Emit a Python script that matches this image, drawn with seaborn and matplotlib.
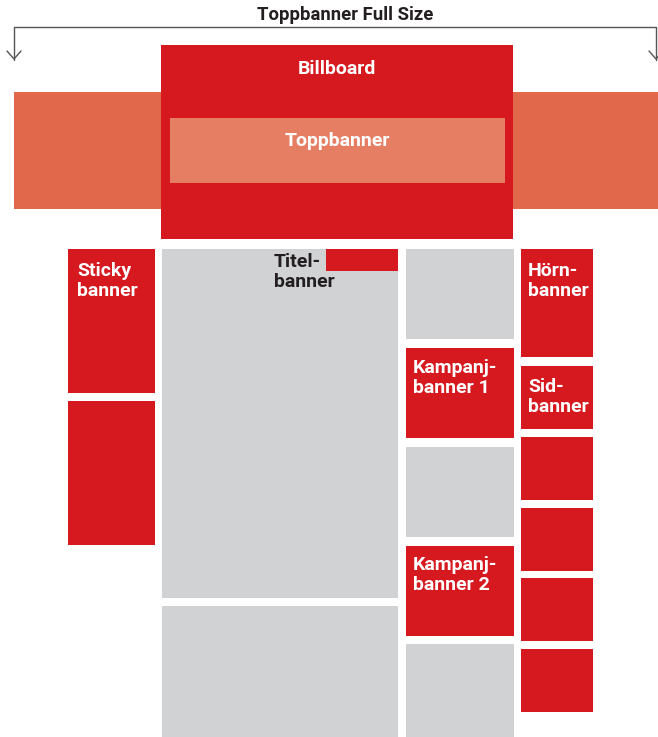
import pandas as pd
import matplotlib.pyplot as plt
import seaborn as sns

# Ad placement layout (pixel units, y grows downward)
RED = "#D6181F"
GRAY = "#D1D2D4"
ORANGE = "#E2684B"
LIGHT = "#E67E63"

box_names = [
    "toppbanner_full", "billboard", "toppbanner",
    "sticky", "sticky_2",
    "main", "main_2", "titel",
    "col3_a", "kampanj_1", "col3_b", "kampanj_2", "col3_c",
    "horn", "sid", "side_3", "side_4", "side_5", "side_6",
]
box_left = [14, 161, 170, 68, 68, 162, 162, 326,
            406, 406, 406, 406, 406, 521, 521, 521, 521, 521, 521]
box_top = [92, 45, 118, 249, 401, 249, 606, 249,
           249, 348, 447, 546, 644, 249, 366, 437, 508, 578, 649]
box_width = [644, 352, 335, 87, 87, 236, 236, 72,
             108, 108, 108, 108, 108, 72, 72, 72, 72, 72, 72]
box_height = [117, 194, 65, 144, 144, 349, 131, 22,
              90, 90, 90, 90, 93, 108, 63, 63, 63, 63, 63]
box_color = [ORANGE, RED, LIGHT, RED, RED, GRAY, GRAY, RED,
             GRAY, RED, GRAY, RED, GRAY, RED, RED, RED, RED, RED, RED]

label_text = ["Billboard", "Toppbanner", "Sticky\nbanner", "Titel-\nbanner",
              "Kampanj-\nbanner 1", "Kampanj-\nbanner 2", "Hörn-\nbanner",
              "Sid-\nbanner"]
label_x = [337, 337, 77, 274, 413, 413, 528, 528]
label_y = [69, 141, 262, 253, 359, 556, 262, 378]
label_ha = ["center", "center", "left", "left", "left", "left", "left", "left"]
label_va = ["center", "center", "top", "top", "top", "top", "top", "top"]
label_color = ["white", "white", "white", "#231F20", "white", "white", "white", "white"]

boxes = pd.DataFrame({"name": box_names, "left": box_left, "top": box_top,
                      "width": box_width, "height": box_height, "color": box_color})

sns.set_theme(style="white")
plt.rcParams["font.family"] = ["Roboto", "DejaVu Sans"]

fig = plt.figure(figsize=(6.58, 7.37), dpi=100)
ax = fig.add_axes([0, 0, 1, 1])
ax.set_xlim(0, 658)
ax.set_ylim(737, 0)
ax.axis("off")

ax.bar(boxes["left"], boxes["height"], width=boxes["width"], bottom=boxes["top"],
       color=boxes["color"], align="edge", linewidth=0)

# full size bracket with arrows
ax.plot([14, 14, 656, 656], [60, 27, 27, 60], color="#555555", lw=1)
for ax_x in [14, 656]:
    ax.plot([ax_x - 7, ax_x, ax_x + 7], [51, 59, 51], color="#555555", lw=1)
ax.text(345, 15, "Toppbanner Full Size", ha="center", va="center",
        fontsize=13.3, fontweight="bold", color="#231F20")

for txt, x, y, ha, va, c in zip(label_text, label_x, label_y, label_ha,
                                label_va, label_color):
    ax.text(x, y, txt, ha=ha, va=va, fontsize=14, fontweight="bold",
            color=c, linespacing=1.12)

fig.savefig("out.png", dpi=100)
